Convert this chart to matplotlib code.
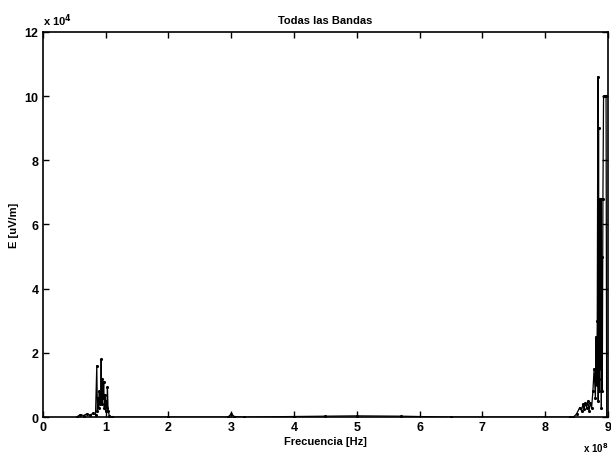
import numpy as np
import matplotlib
matplotlib.use('Agg')
import matplotlib.pyplot as plt
from matplotlib.ticker import FuncFormatter

# frequencies in units of 1e8 Hz, field in units of 1e4
FM_F = [0.55, 0.60, 0.65, 0.70, 0.75, 0.80, 0.84, 0.86, 0.87, 0.88, 0.89, 0.90, 0.91,
        0.92, 0.93, 0.94, 0.95, 0.96, 0.97, 0.98, 0.99, 1.00, 1.01, 1.02, 1.03, 1.04, 1.06, 1.10]
FM_E = [0.02, 0.08, 0.05, 0.10, 0.06, 0.12, 0.08, 1.60, 0.20, 0.60, 0.30, 0.80, 0.40,
        0.50, 1.80, 0.40, 1.20, 0.60, 1.10, 0.30, 0.70, 0.20, 0.50, 0.30, 0.93, 0.20, 0.05, 0.0]

MID_F = [1.10, 2.00, 2.95, 3.00, 3.05, 3.20, 4.00, 4.50, 5.00, 5.70, 6.50, 8.40]
MID_E = [0.0, 0.0, 0.0, 0.10, 0.02, 0.0, 0.02, 0.03, 0.04, 0.03, 0.0, 0.0]

GSM_F = [8.45, 8.50, 8.55, 8.58, 8.60, 8.62, 8.64, 8.66, 8.68, 8.70, 8.72, 8.74, 8.76,
         8.78, 8.80, 8.81, 8.82, 8.83, 8.84, 8.845, 8.85, 8.855, 8.86, 8.865, 8.87,
         8.875, 8.88, 8.885, 8.89, 8.895, 8.90, 8.91, 8.92, 8.93, 8.95, 8.97, 8.98]
GSM_E = [0.0, 0.10, 0.30, 0.20, 0.40, 0.25, 0.45, 0.30, 0.50, 0.20, 0.45, 0.30, 0.80,
         1.50, 0.60, 2.50, 1.00, 3.00, 10.6, 0.50, 9.00, 1.20, 6.80, 0.80, 6.80,
         2.00, 6.80, 1.50, 6.80, 0.30, 5.00, 0.80, 6.80, 10.0, 10.0, 10.0, 0.0]

TITLE = 'Todas las Bandas'
XLABEL = 'Frecuencia [Hz]'
YLABEL = 'E [uV/m]'
#=============================================
freq = np.array(FM_F + MID_F + GSM_F) * 1e8
e = np.array(FM_E + MID_E + GSM_E) * 1e4

plt.rcParams.update({'font.family': ['Liberation Sans', 'DejaVu Sans'],
                     'font.size': 8, 'font.weight': 'bold'})
fig = plt.figure(figsize=(6.11, 4.56), dpi=100)
ax = fig.add_axes([0.070, 0.083, 0.925, 0.845])

ax.plot(freq, e, '-', color='black', lw=0.9, marker='.', ms=2.5)

ax.set_xlim(0, 9e8)
ax.set_ylim(0, 12e4)
ax.set_xticks(np.arange(0, 10) * 1e8)
ax.set_yticks(np.arange(0, 13, 2) * 1e4)
ax.xaxis.set_major_formatter(FuncFormatter(lambda v, p: f'{v/1e8:.0f}'))
ax.yaxis.set_major_formatter(FuncFormatter(lambda v, p: f'{v/1e4:.0f}'))
ax.tick_params(direction='in', length=4, width=1, labelsize=9, pad=3)
ax.tick_params(top=True, right=True)
for s in ax.spines.values():
    s.set_linewidth(1.2)

ax.set_title(TITLE, fontsize=8, fontweight='bold', pad=6)
ax.set_xlabel(XLABEL, fontsize=8, fontweight='bold', labelpad=2)
ax.set_ylabel(YLABEL, fontsize=8, fontweight='bold', labelpad=4)
ax.text(0.0, 1.01, 'x 10$^4$', transform=ax.transAxes, fontsize=8, fontweight='bold',
        ha='left', va='bottom')
ax.text(1.0, -0.06, 'x 10$^8$', transform=ax.transAxes, fontsize=7, fontweight='bold',
        ha='right', va='top')

plt.savefig('out.png', dpi=100)
